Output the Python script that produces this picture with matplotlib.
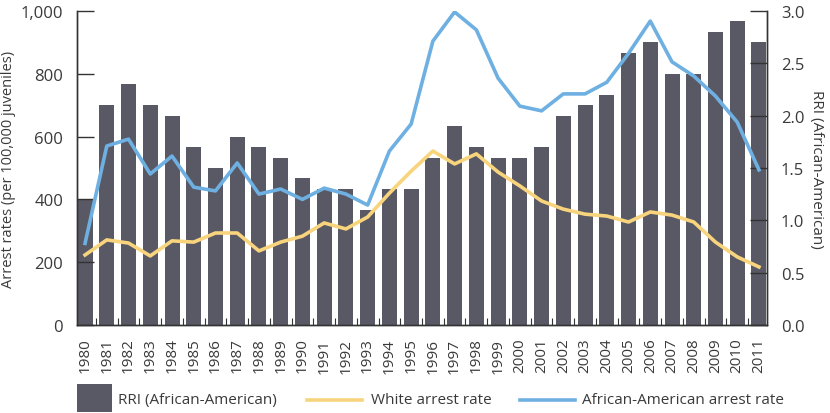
import matplotlib.pyplot as plt
import numpy as np
from matplotlib.lines import Line2D
from matplotlib.patches import Rectangle
from matplotlib.ticker import FuncFormatter, FixedLocator

plt.rcParams['font.family'] = ['Open Sans', 'DejaVu Sans']

years = list(range(1980, 2012))
rri = [1.2, 2.1, 2.3, 2.1, 2.0, 1.7, 1.5, 1.8, 1.7, 1.6, 1.4, 1.3, 1.3, 1.1, 1.3, 1.3,
       1.6, 1.9, 1.7, 1.6, 1.6, 1.7, 2.0, 2.1, 2.2, 2.6, 2.7, 2.4, 2.4, 2.8, 2.9, 2.7]
white_rate = [223, 271, 261, 220, 268, 264, 293, 293, 236, 264, 283, 325, 306, 344, 420, 490,
              554, 513, 545, 487, 443, 395, 369, 353, 347, 328, 360, 350, 328, 264, 217, 185]
black_rate = [260, 570, 592, 481, 538, 439, 427, 516, 417, 433, 400, 436, 417, 382, 554, 640,
              904, 997, 940, 786, 697, 682, 736, 736, 773, 865, 968, 838, 793, 729, 646, 494]
legend_labels = ['RRI (African-American)', 'White arrest rate', 'African-American arrest rate']

bar_color = '#585965'
white_color = '#f8d47c'
black_color = '#6eb0e2'
text_color = '#3a3a3a'
axis_color = '#333333'

W, H = 830, 414
fig = plt.figure(figsize=(W / 100, H / 100), dpi=100)
ax = fig.add_axes([77 / W, 1 - 326 / H, 690 / W, 314 / H])
ax_r = ax.twinx()

x = np.arange(len(years))
ax_r.bar(x, rri, width=0.69, color=bar_color, zorder=1)
ax.plot(x, white_rate, color=white_color, lw=2.6, solid_joinstyle='round', zorder=3)
ax.plot(x, black_rate, color=black_color, lw=2.6, solid_joinstyle='round', zorder=3)

# lines above the bars of the twin axis
ax.set_zorder(ax_r.get_zorder() + 1)
ax.patch.set_visible(False)

ax.set_xlim(-0.37, len(years) - 1 + 0.37)
ax.set_ylim(0, 1000)
ax_r.set_ylim(0, 3)

ax.set_yticks([0, 200, 400, 600, 800, 1000])
ax.yaxis.set_major_formatter(FuncFormatter(lambda v, p: f'{int(v):,}'))
rticks = [0, 0.5, 1.0, 1.5, 2.0, 2.5, 3.0]
ax_r.set_yticks(rticks)
ax_r.set_yticklabels([f'{v:.1f}' for v in rticks])

ax.set_xticks(x)
ax.set_xticklabels([str(y) for y in years], rotation=90)
ax.xaxis.set_minor_locator(FixedLocator(x[:-1] + 0.5))
ax.tick_params(axis='x', which='major', length=0, pad=9, labelsize=11, labelcolor=text_color)
ax.tick_params(axis='x', which='minor', direction='in', length=5, width=0.8, color=axis_color)
ax.tick_params(axis='y', direction='in', length=12, width=1, color=axis_color,
               labelsize=12, labelcolor=text_color, pad=10)
ax_r.tick_params(axis='y', direction='in', length=12, width=1, color=axis_color,
                 labelsize=12, labelcolor=text_color, pad=10)

for a in (ax, ax_r):
    a.spines['top'].set_visible(False)
    for s in ('left', 'right', 'bottom'):
        a.spines[s].set_color(axis_color)
        a.spines[s].set_linewidth(1)

ax.set_ylabel('Arrest rates (per 100,000 juveniles)', fontsize=10.5, color=text_color, labelpad=3)
ax_r.set_ylabel('RRI (African-American)', fontsize=11, color=text_color, rotation=270, labelpad=14)

# legend drawn by hand to match the spacing of the original
ly = 1 - 401 / H
fig.add_artist(Rectangle((77 / W, 1 - 413 / H), 35 / W, 28 / H, transform=fig.transFigure,
                         facecolor=bar_color, edgecolor='none'))
fig.add_artist(Line2D([307 / W, 362 / W], [ly, ly], transform=fig.transFigure,
                      color=white_color, lw=2.6))
fig.add_artist(Line2D([520 / W, 575 / W], [ly, ly], transform=fig.transFigure,
                      color=black_color, lw=2.6))
for xpos, label in zip([118, 371, 582], legend_labels):
    fig.text(xpos / W, ly, label, fontsize=11, color=text_color, ha='left', va='center')

fig.savefig('out.png', dpi=100)
